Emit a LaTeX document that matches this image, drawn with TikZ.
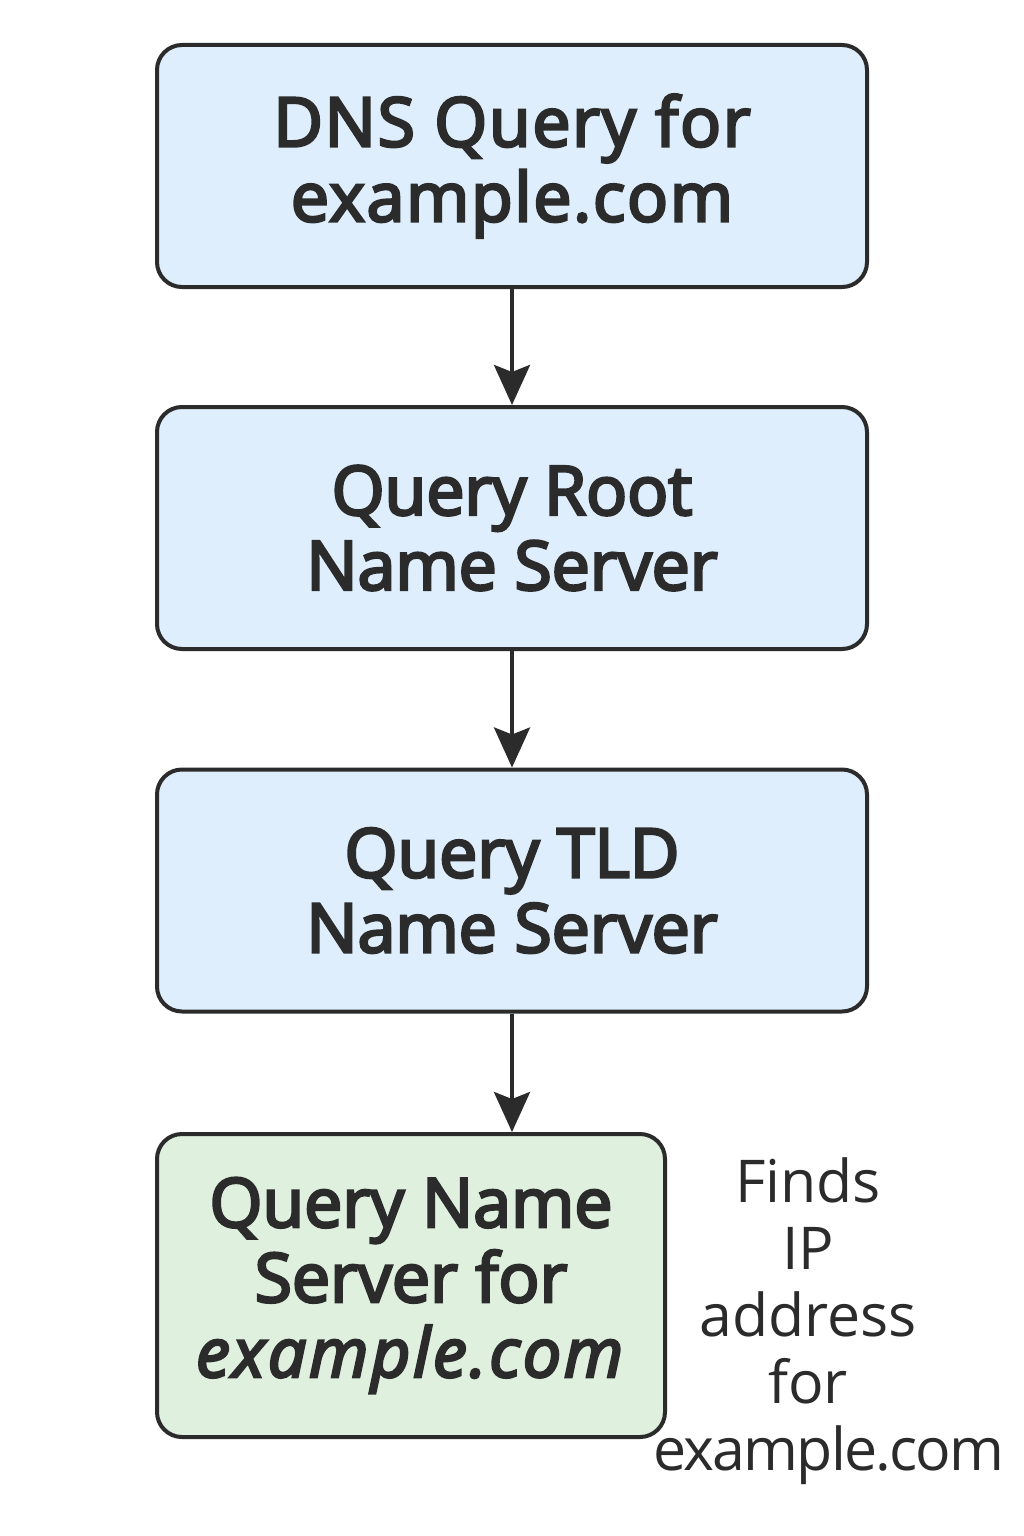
\documentclass[tikz,border=0pt]{standalone}
\usepackage{fontspec}
\setmainfont{Open Sans}
\newfontfamily\boxfont{Open Sans}[FakeBold=4]
\usetikzlibrary{arrows.meta}
\definecolor{ink}{HTML}{2B2B2B}
\definecolor{bluefill}{HTML}{DEEEFC}
\definecolor{greenfill}{HTML}{DFF0DF}
\tikzset{
  stepbox/.style={draw=ink, line width=4pt, rounded corners=25pt, fill=bluefill,
    minimum width=710pt, minimum height=242pt, align=center, text=ink,
    font=\boxfont\fontsize{68}{75}\selectfont, inner sep=0pt},
  finalbox/.style={stepbox, fill=greenfill, minimum width=508pt, minimum height=303pt},
  flow/.style={draw=ink, line width=4pt, -{Stealth[length=40pt,width=36pt,inset=7pt]}},
  note/.style={align=center, text=ink, font=\fontsize{59}{67}\selectfont, inner sep=0pt}
}
\begin{document}
\begin{tikzpicture}[x=1pt,y=-1pt]
\useasboundingbox[fill=white] (0,0) rectangle (1024,1536);
\node[stepbox] (dns) at (512,166) {\addfontfeatures{LetterSpace=2.5}DNS Query for\\\addfontfeatures{LetterSpace=2.5}example.com};
\node[stepbox] (root) at (512,528) {Query Root\\Name Server};
\node[stepbox] (tld) at (512,890.5) {Query TLD\\Name Server};
\node[finalbox] (ns) at (411,1285.5) {Query Name\\Server for\\\addfontfeatures{LetterSpace=4}\textit{example.com}};
\node[note] (find) at (808,1321) {Finds\\IP\\address\\for\\\hspace*{42pt}\addfontfeatures{LetterSpace=-3}example.com};
\draw[flow] (dns) -- (root);
\draw[flow] (root) -- (tld);
\draw[flow] (tld) -- (ns.north -| tld.south);
\end{tikzpicture}
\end{document}
